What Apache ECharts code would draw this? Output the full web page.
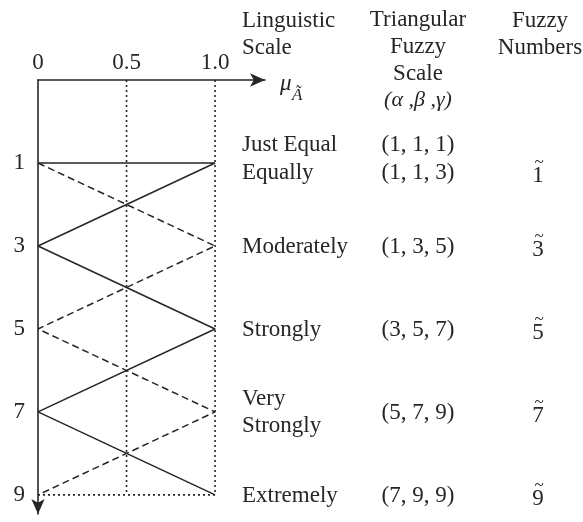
<!DOCTYPE html>
<html>
<head>
<meta charset="utf-8">
<script src="https://cdn.jsdelivr.net/npm/echarts@6/dist/echarts.min.js"></script>
<style>
  html, body { margin: 0; padding: 0; background: #fff; }
  #chart { width: 583px; height: 522px; }
</style>
</head>
<body>
<div id="chart"></div>
<script>
// membership axis (mu) and scale axis ticks
var muTicks = [0, 0.5, 1.0];
var scaleTicks = [1, 3, 5, 7, 9];

// solid and dashed membership polylines
var solidMu = [0, 1, 0, 1, 0, 1];
var solidScale = [1, 1, 3, 5, 7, 9];
var dashedMu = [0, 1, 0, 1, 0];
var dashedScale = [1, 3, 5, 7, 9];

// dotted guide lines
var guideMu = [0.5, 1.0];
var guideScale = [-1, 9];
var baseMu = [0, 1];
var baseScale = 9;

// table
var rowScale = [1, 3, 5, 7, 9];
var terms = ['Equally', 'Moderately', 'Strongly', 'Very\nStrongly', 'Extremely'];
var tfns = ['(1, 1, 3)', '(1, 3, 5)', '(3, 5, 7)', '(5, 7, 9)', '(7, 9, 9)'];
var fuzzyNums = ['1', '3', '5', '7', '9'];
var firstTerm = 'Just Equal';
var firstTfn = '(1, 1, 1)';

var FONT = '"Liberation Serif", "DejaVu Serif", serif';
var INK = '#262626';

var chart = echarts.init(document.getElementById('chart'));

function pairs(xs, ys) {
  return xs.map(function (x, i) { return [x, ys[i]]; });
}

var series = [];
guideMu.forEach(function (m) {
  series.push({
    type: 'line', showSymbol: false, silent: true, z: 1,
    data: guideScale.map(function (s) { return [m, s]; }),
    lineStyle: { color: INK, width: 1.6, type: [2, 3] }
  });
});
series.push({
  type: 'line', showSymbol: false, silent: true, z: 1,
  data: baseMu.map(function (m) { return [m, baseScale]; }),
  lineStyle: { color: INK, width: 1.6, type: [2, 3] }
});
series.push({
  type: 'line', showSymbol: false, silent: true, z: 3,
  data: pairs(solidMu, solidScale),
  lineStyle: { color: INK, width: 1.5 }
});
series.push({
  type: 'line', showSymbol: false, silent: true, z: 2,
  data: pairs(dashedMu, dashedScale),
  lineStyle: { color: INK, width: 1.5, type: [7, 4] }
});

var option = {
  animation: false,
  backgroundColor: '#fff',
  grid: { left: 38, top: 80, width: 227, height: 434 },
  xAxis: {
    type: 'value', position: 'top', min: 0, max: 1.282,
    splitLine: { show: false },
    axisTick: { show: false },
    axisLine: { show: true, onZero: false, symbol: ['none', 'arrow'], symbolSize: [10, 15],
      lineStyle: { color: INK, width: 1.6 } },
    axisLabel: {
      customValues: muTicks, margin: 6,
      fontFamily: FONT, fontSize: 23, color: INK,
      formatter: function (v) { return v === 1 ? '1.0' : String(v); }
    }
  },
  yAxis: {
    type: 'value', inverse: true, min: -1, max: 9.46,
    splitLine: { show: false },
    axisTick: { show: false },
    axisLine: { show: true, onZero: false, symbol: ['arrow', 'none'], symbolSize: [10, 15],
      lineStyle: { color: INK, width: 1.6 } },
    axisLabel: {
      customValues: scaleTicks, margin: 13,
      fontFamily: FONT, fontSize: 23, color: INK
    }
  },
  series: series
};
chart.setOption(option);

function txt(x, y, text, align, extra) {
  var s = {
    text: text, x: x, y: y, fill: INK, font: '23px ' + FONT,
    align: align || 'left', verticalAlign: 'middle', lineHeight: 27
  };
  if (extra) for (var k in extra) s[k] = extra[k];
  return { type: 'text', style: s };
}

var els = [];
// headers
els.push(txt(242, 34, 'Linguistic\nScale', 'left'));
els.push(txt(418, 47, 'Triangular\nFuzzy\nScale', 'center'));
els.push(txt(418, 100, '(\u03b1 ,\u03b2 ,\u03b3)', 'center', { font: 'italic 22px ' + FONT }));
els.push(txt(540, 34, 'Fuzzy\nNumbers', 'center'));
// mu_A label
els.push(txt(280, 84, '\u03bc', 'left', { font: 'italic 23px ' + FONT }));
els.push(txt(292, 96, '\u00c3', 'left', { font: 'italic 17px ' + FONT }));

rowScale.forEach(function (s, i) {
  var y = chart.convertToPixel({ yAxisIndex: 0 }, s) + 1;
  if (i === 0) {
    y += 9;
    els.push(txt(242, y - 28, firstTerm, 'left'));
    els.push(txt(418, y - 28, firstTfn, 'center'));
  }
  els.push(txt(242, y, terms[i], 'left'));
  els.push(txt(418, y, tfns[i], 'center'));
  els.push(txt(538, y + 3, fuzzyNums[i], 'center'));
  els.push(txt(539, y - 10, '~', 'center', { font: '17px ' + FONT }));
});

chart.setOption({ graphic: els });
</script>
</body>
</html>
